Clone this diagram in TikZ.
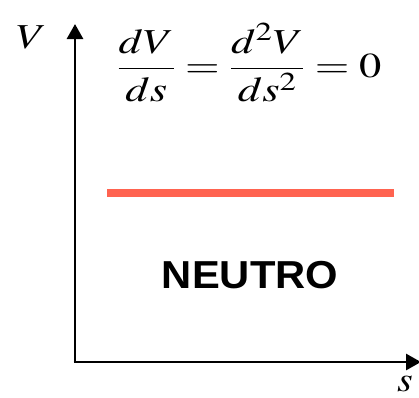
\documentclass[tikz,border=0pt]{standalone}
\usepackage{graphicx}
\usepackage{mathptmx}
\usepackage{fontspec}
\setmainfont{Liberation Serif}
\newfontfamily\heros{Liberation Sans}
\usetikzlibrary{arrows.meta}
\definecolor{redline}{HTML}{FF6350}
\tikzset{
  axis/.style={line width=2.8pt, -{Triangle[length=15pt,width=16pt]}},
  lbl/.style={inner sep=0pt, font=\fontsize{35}{40}\selectfont},
}
\begin{document}
\begin{tikzpicture}[x=1pt,y=-1pt]
\useasboundingbox (0,0) rectangle (419,397);
\coordinate (o) at (75,362);
\coordinate (ytop) at (75,24);
\coordinate (xend) at (421,362);
\draw[axis] (o) -- (ytop);
\draw[axis] ([xshift=-1.4pt]o) -- (xend);
\coordinate (r1) at (107,193);
\coordinate (r2) at (394,193);
\draw[redline, line width=7.5pt] (r1) -- (r2);
\node[lbl, anchor=base west] (V) at (16,48) {\scalebox{1.25}[1]{$V$}};
\node[lbl, anchor=base east] (s) at (413,391) {\scalebox{1.15}[1]{$s$}};
\node[lbl, anchor=base west] (eq) at (117,77) {\scalebox{1.27}[1]{$\displaystyle \frac{dV}{ds}=\frac{d^2V}{ds^2}=0$}};
\node[inner sep=0pt, font=\heros\bfseries\fontsize{39}{44}\selectfont] (n) at (250,275) {\scalebox{1.07}[1]{NEUTRO}};
\end{tikzpicture}
\end{document}
